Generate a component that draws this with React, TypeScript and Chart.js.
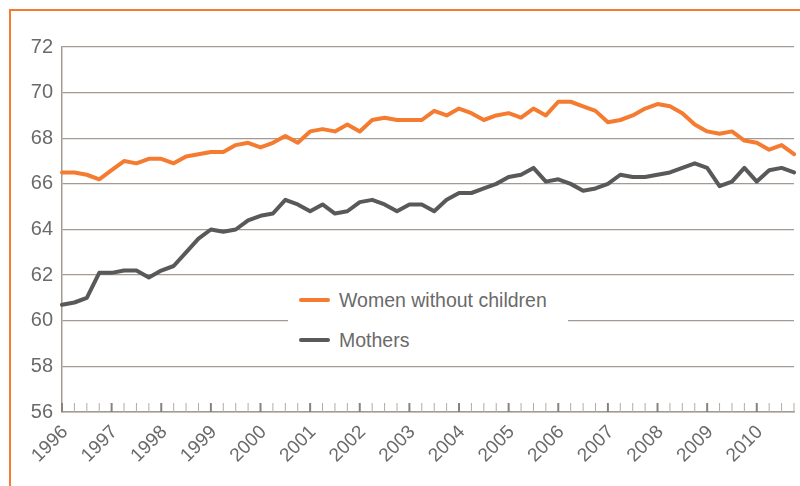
import React, { useEffect, useRef } from 'react';
import { Chart, registerables } from 'chart.js';

Chart.register(...registerables);

const years = ['1996', '1997', '1998', '1999', '2000', '2001', '2002', '2003', '2004', '2005', '2006', '2007', '2008', '2009', '2010'];
const quarters = ['Q1', 'Q2', 'Q3', 'Q4'];
const seriesNames = ['Women without children', 'Mothers'];

const womenWithoutChildren = [
  66.5, 66.5, 66.4, 66.2, 66.6, 67.0, 66.9, 67.1, 67.1, 66.9,
  67.2, 67.3, 67.4, 67.4, 67.7, 67.8, 67.6, 67.8, 68.1, 67.8,
  68.3, 68.4, 68.3, 68.6, 68.3, 68.8, 68.9, 68.8, 68.8, 68.8,
  69.2, 69.0, 69.3, 69.1, 68.8, 69.0, 69.1, 68.9, 69.3, 69.0,
  69.6, 69.6, 69.4, 69.2, 68.7, 68.8, 69.0, 69.3, 69.5, 69.4,
  69.1, 68.6, 68.3, 68.2, 68.3, 67.9, 67.8, 67.5, 67.7, 67.3,
];

const mothers = [
  60.7, 60.8, 61.0, 62.1, 62.1, 62.2, 62.2, 61.9, 62.2, 62.4,
  63.0, 63.6, 64.0, 63.9, 64.0, 64.4, 64.6, 64.7, 65.3, 65.1,
  64.8, 65.1, 64.7, 64.8, 65.2, 65.3, 65.1, 64.8, 65.1, 65.1,
  64.8, 65.3, 65.6, 65.6, 65.8, 66.0, 66.3, 66.4, 66.7, 66.1,
  66.2, 66.0, 65.7, 65.8, 66.0, 66.4, 66.3, 66.3, 66.4, 66.5,
  66.7, 66.9, 66.7, 65.9, 66.1, 66.7, 66.1, 66.6, 66.7, 66.5,
];

const yTicks = [56, 58, 60, 62, 64, 66, 68, 70, 72];

const categories: string[] = [];
years.forEach((y) => quarters.forEach((q) => categories.push(`${y} ${q}`)));

const ORANGE = '#F47B30';
const GREY = '#595959';
const GRID = '#a39b93';
const TEXT = '#6a6a6a';
const FONT = "'Liberation Sans', Arial, sans-serif";

const tickMarks = {
  id: 'tickMarks',
  afterDatasetsDraw(chart: any) {
    const xs = chart.scales.x;
    const ctx = chart.ctx;
    const bottom = chart.chartArea.bottom;
    ctx.save();
    categories.forEach((c, i) => {
      const px = xs.getPixelForValue(i);
      const major = c.endsWith(quarters[0]);
      ctx.strokeStyle = major ? '#8a827a' : '#b3aca5';
      ctx.lineWidth = major ? 2 : 1;
      ctx.beginPath();
      ctx.moveTo(px, bottom);
      ctx.lineTo(px, bottom - 9);
      ctx.stroke();
    });
    ctx.restore();
  },
};

export default function App() {
  const ref = useRef<HTMLCanvasElement | null>(null);

  useEffect(() => {
    if (!ref.current) return;
    const chart = new Chart(ref.current, {
      type: 'line',
      data: {
        labels: categories,
        datasets: [
          {
            label: seriesNames[0],
            data: womenWithoutChildren,
            borderColor: ORANGE,
            backgroundColor: ORANGE,
            borderWidth: 4,
            pointRadius: 0,
            tension: 0,
            borderJoinStyle: 'round',
            borderCapStyle: 'round',
          },
          {
            label: seriesNames[1],
            data: mothers,
            borderColor: GREY,
            backgroundColor: GREY,
            borderWidth: 4,
            pointRadius: 0,
            tension: 0,
            borderJoinStyle: 'round',
            borderCapStyle: 'round',
          },
        ],
      },
      options: {
        responsive: false,
        maintainAspectRatio: false,
        animation: false,
        layout: { padding: { top: 47, right: 6, left: 0, bottom: 0 } },
        plugins: {
          legend: { display: false },
          tooltip: { enabled: false },
        },
        scales: {
          x: {
            type: 'category',
            offset: false,
            grid: { display: true, drawOnChartArea: false, drawTicks: false },
            border: { display: true, color: GRID, width: 1.5 },
            ticks: {
              autoSkip: false,
              minRotation: 45,
              maxRotation: 45,
              padding: 9,
              labelOffset: 3,
              color: TEXT,
              font: { family: FONT, size: 19 },
              callback: (v: any, i: number) => {
                const c = categories[i];
                return c.endsWith(quarters[0]) ? c.split(' ')[0] : '';
              },
            },
            afterFit: (s: any) => {
              s.height = 74;
              s.paddingRight = 0;
              s.paddingLeft = 0;
            },
          },
          y: {
            min: yTicks[0],
            max: yTicks[yTicks.length - 1],
            grid: { color: GRID, lineWidth: 1.3, drawTicks: false },
            border: { display: true, color: GRID, width: 1.5 },
            ticks: {
              stepSize: yTicks[1] - yTicks[0],
              padding: 9,
              color: TEXT,
              font: { family: FONT, size: 20 },
            },
            afterFit: (s: any) => {
              s.width = 62;
              s.paddingTop = 0;
              s.paddingBottom = 0;
            },
          },
        },
      },
      plugins: [tickMarks],
    });
    return () => chart.destroy();
  }, []);

  const entry = (color: string, label: string, top: number) => (
    <div style={{ position: 'absolute', left: 0, top, height: 24, width: 280 }}>
      <div
        style={{
          position: 'absolute',
          left: 11,
          top: 10,
          width: 31,
          height: 4,
          borderRadius: 2,
          background: color,
        }}
      />
      <div
        style={{
          position: 'absolute',
          left: 51,
          top: 0,
          lineHeight: '24px',
          fontSize: 19.5,
          fontFamily: FONT,
          color: TEXT,
          whiteSpace: 'nowrap',
        }}
      >
        {label}
      </div>
    </div>
  );

  return (
    <div style={{ position: 'fixed', left: 0, top: 0, width: 800, height: 486, background: '#fff', overflow: 'hidden' }}>
      <div
        style={{
          position: 'absolute',
          left: 9,
          top: 9,
          width: 820,
          height: 520,
          borderTop: `2px solid ${ORANGE}`,
          borderLeft: `2px solid ${ORANGE}`,
        }}
      />
      <canvas ref={ref} width={800} height={486} style={{ position: 'absolute', left: 0, top: 0 }} />
      <div style={{ position: 'absolute', left: 288, top: 282, width: 280, height: 76, background: '#fff' }}>
        {entry(ORANGE, seriesNames[0], 6)}
        {entry(GREY, seriesNames[1], 46)}
      </div>
    </div>
  );
}
